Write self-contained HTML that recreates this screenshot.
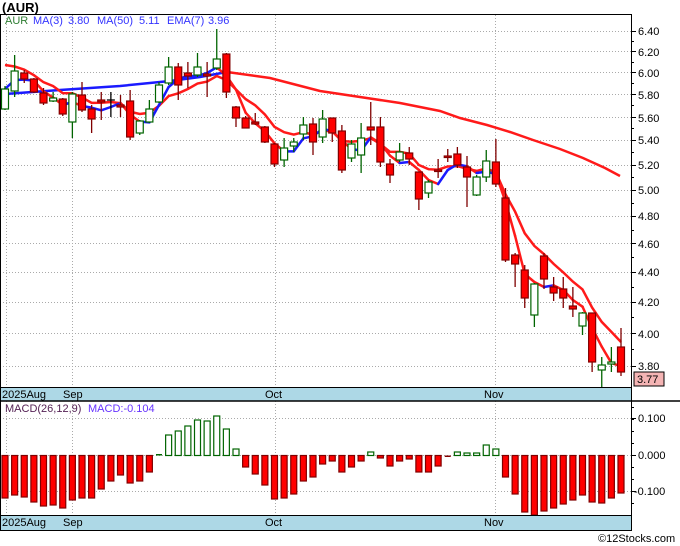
<!DOCTYPE html>
<html><head><meta charset="utf-8"><style>
html,body{margin:0;padding:0;background:#fff;}
svg{display:block;font-family:"Liberation Sans","DejaVu Sans",sans-serif;}
</style></head><body>
<svg id="s" width="680" height="546" viewBox="0 0 680 546" xmlns="http://www.w3.org/2000/svg">
<rect x="0" y="0" width="680" height="546" fill="#fff"/>
<text x="2" y="12" font-size="13" font-weight="bold" fill="#000">(AUR)</text>
<g id="grid" stroke="#aaa" stroke-dasharray="1,2" stroke-width="1"></g>
<rect x="0" y="387" width="632" height="14" fill="#add8e6"/>
<rect x="0" y="515" width="632" height="15" fill="#add8e6"/>
<g id="plot"></g>
<line x1="0" y1="14.5" x2="632" y2="14.5" stroke="#000"/>
<line x1="0.5" y1="14" x2="0.5" y2="531" stroke="#000"/>
<line x1="631.5" y1="14" x2="631.5" y2="531" stroke="#000"/>
<line x1="0" y1="387.5" x2="632" y2="387.5" stroke="#000"/>
<line x1="0" y1="401" x2="680" y2="401" stroke="#000" stroke-width="1.5"/>
<line x1="0" y1="515.5" x2="632" y2="515.5" stroke="#000"/>
<line x1="0" y1="530.5" x2="632" y2="530.5" stroke="#000"/>
<g font-size="11" fill="#000">
<text x="2" y="398">2025Aug</text><text x="63" y="398">Sep</text><text x="265" y="398">Oct</text><text x="484" y="398">Nov</text>
<text x="2" y="526">2025Aug</text><text x="63" y="526">Sep</text><text x="265" y="526">Oct</text><text x="484" y="526">Nov</text>
</g>
<g font-size="11">
<text x="5" y="24" fill="#2e7d32">AUR</text>
<text x="33" y="24" fill="#3333ff">MA(3)</text><text x="68" y="24" fill="#3333ff">3.80</text>
<text x="97" y="24" fill="#3333ff">MA(50)</text><text x="139" y="24" fill="#3333ff">5.11</text>
<text x="167" y="24" fill="#3333ff">EMA(7)</text><text x="208" y="24" fill="#3333ff">3.96</text>
<text x="5" y="412" fill="#552255">MACD(26,12,9)</text>
<text x="88" y="412" fill="#6633ff">MACD:-0.104</text>
</g>
<g font-size="11" fill="#000">
<text x="638" y="35">6.40</text><text x="638" y="56">6.20</text><text x="638" y="77">6.00</text>
<text x="638" y="99">5.80</text><text x="638" y="122">5.60</text><text x="638" y="144">5.40</text>
<text x="638" y="169">5.20</text><text x="638" y="194">5.00</text><text x="638" y="220">4.80</text>
<text x="638" y="248">4.60</text><text x="638" y="276">4.40</text><text x="638" y="306">4.20</text>
<text x="638" y="338">4.00</text><text x="638" y="370">3.80</text>
<text x="638" y="422">0.100</text><text x="638" y="459">0.000</text><text x="634" y="495">-0.100</text>
</g>
<rect x="634" y="372" width="30" height="14" fill="#f4b4b4" stroke="#000"/>
<text x="637" y="383" font-size="11" fill="#000">3.77</text>
<text x="598" y="542" font-size="11" fill="#000">©12Stocks.com</text>
</svg>
<script>
var NS="http://www.w3.org/2000/svg";
function el(p,t,a){var e=document.createElementNS(NS,t);for(var k in a)e.setAttribute(k,a[k]);p.appendChild(e);return e;}
var g=document.getElementById('grid'),P=document.getElementById('plot'),S=document.getElementById('s');
function py(p){return 31+643*(Math.log(6.4)-Math.log(p));}
for(var v=3.8;v<6.45;v+=0.2){var y=Math.round(py(v))+0.5;el(g,'line',{x1:0,y1:y,x2:631,y2:y});el(S,'line',{x1:631,y1:y,x2:636,y2:y,stroke:'#000'});}
for(var v=3.9;v<6.45;v+=0.2){var y=Math.round(py(v))+0.5;el(S,'line',{x1:631,y1:y,x2:634,y2:y,stroke:'#000'});}
[418.5,455.5,491.5].forEach(function(y){el(g,'line',{x1:0,y1:y,x2:631,y2:y});el(S,'line',{x1:631,y1:y,x2:636,y2:y,stroke:'#000'});});
[6,72,275,495].forEach(function(x){el(g,'line',{x1:x+0.5,y1:15,x2:x+0.5,y2:387});el(g,'line',{x1:x+0.5,y1:401,x2:x+0.5,y2:515});});
var C=[['g',89,109,86,110],['g',71,91,55,97],['r',73,79,70,83],['r',79,92,78,93],['r',93,103,88,105],['g',98,101,92,102],['r',99,114,98,116],['g',94,122,92,138],['r',95,110,82,112],['r',109,119,105,133],
['r',100,102,92,120],['k',100,100,92,117],['r',105,107,95,117],['r',101,137,90,140],['g',121,133,120,135],['g',109,122,100,123],['g',85,102,82,103],['g',67,83,57,85],['r',67,85,63,100],['r',73,76,62,88],
['g',67,75,53,77],['r',74,76,62,97],['g',59,68,29,70],['r',54,92,53,98],['r',107,118,106,127],['r',118,128,116,128],['r',122,124,113,125],['r',127,142,126,143],['r',144,164,143,167],['g',148,160,138,167],
['g',142,146,138,152],['g',125,134,117,140],['r',124,142,118,155],['g',119,137,110,143],['r',118,133,118,142],['r',131,170,125,173],['g',144,158,140,162],['g',138,155,123,173],['r',127,130,102,145],['r',127,162,117,167],
['r',164,175,159,183],['g',152,160,143,162],['r',153,159,147,165],['r',172,199,172,210],['g',182,193,180,198],['r',170,171,159,178],['r',156,157,149,162],['r',154,165,147,168],['r',167,177,156,207],['g',177,195,175,196],
['g',161,177,150,182],['r',162,184,139,187],['r',198,260,188,262],['r',255,264,253,287],['r',270,298,265,308],['g',284,315,283,327],['r',256,279,253,289],['r',287,293,277,301],['r',289,298,277,308],['r',306,309,287,317],
['g',313,326,312,335],['r',313,362,313,372],['g',365,370,357,387],['g',362,364,347,372],['r',347,372,328,376]];
function X(i){return 5+i*9.625;}
el(P,'polyline',{points:'5,94 60,90 120,86 170,81 200,77 227,72',fill:'none',stroke:'#1a1aff','stroke-width':2.5});
el(P,'polyline',{points:'227,72 270,78 320,91 360,97 400,103 440,111 460,118 487,125 510,132 533,140 560,149 583,158 605,168 620,176',fill:'none',stroke:'#ff1a1a','stroke-width':2.5});
var cl=C.map(function(c){return c[0]=='g'?c[1]:c[2];});
var ema=[],ma=[],e=65;
for(var i=0;i<cl.length;i++){if(i>0)e=e+(cl[i]-e)*0.25;ema.push(e);var a=Math.max(0,i-2),s=0;for(var j=a;j<=i;j++)s+=cl[j];ma.push(s/(i-a+1));}
var ep=ema.map(function(v,i){return X(i)+','+v.toFixed(1);}).join(' ');
el(P,'polyline',{points:ep,fill:'none',stroke:'#ff1a1a','stroke-width':2.5});
for(var i=1;i<ma.length;i++){var col=(ma[i]-ma[i-1]>3)?'#ff1a1a':'#1a1aff';
el(P,'line',{x1:X(i-1),y1:ma[i-1],x2:X(i),y2:ma[i],stroke:col,'stroke-width':2.5,'stroke-linecap':'round'});}
C.forEach(function(c,i){var x=X(i),st=c[0]=='g'?'#006400':(c[0]=='k'?'#000':'#800000');
el(P,'line',{x1:x,y1:c[3],x2:x,y2:c[4],stroke:st,'stroke-width':1.3});
if(c[0]=='k'){el(P,'line',{x1:x-4,y1:c[1],x2:x+4,y2:c[1],stroke:st,'stroke-width':1.3});return;}
var h=Math.max(c[2]-c[1],1.5);el(P,'rect',{x:x-3.5,y:c[1],width:7,height:h,fill:c[0]=='g'?'#fff':'#ff0000',stroke:st,'stroke-width':1.2});});
var M=[498,495,497,502,506,505,508,500,498,498,489,481,475,483,481,472,454,435,431,426,420,421,416,429,449,467,474,485,499,498,494,481,477,464,461,472,467,461,452,458,466,461,459,472,472,466,457,452,453,453,445,449,477,494,512,515,511,508,504,500,495,502,503,498,493];
var Z=455.5;
M.forEach(function(v,i){var x=X(i);
if(i==16){el(P,'rect',{x:x-3,y:Z-1.5,width:6,height:1.5,fill:'#006400'});return;}
if(i==46){el(P,'rect',{x:x-3,y:Z,width:6,height:1.5,fill:'#800000'});return;}
if(v<Z)el(P,'rect',{x:x-3,y:v,width:6,height:Z-v,fill:'#fff',stroke:'#006400','stroke-width':1.2});
else el(P,'rect',{x:x-3,y:Z,width:6,height:v-Z,fill:'#ff0000',stroke:'#800000','stroke-width':1.2});});
for(var y=407;y<515;y+=12)el(S,'line',{x1:631,y1:y+0.5,x2:634,y2:y+0.5,stroke:'#000'});
</script>
</body></html>
